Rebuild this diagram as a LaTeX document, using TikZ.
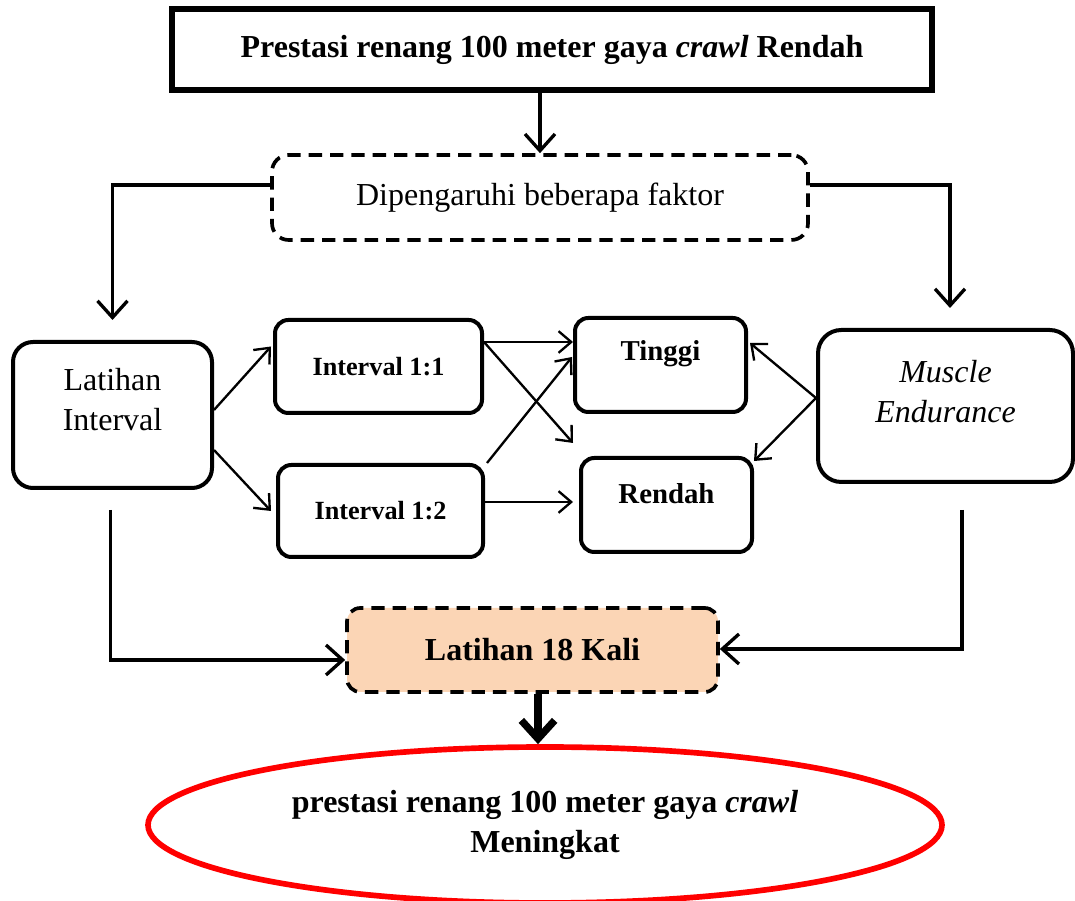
\documentclass[tikz,border=0pt]{standalone}
\usepackage{fontspec}
\setmainfont[Scale=0.96]{Liberation Serif}
\usetikzlibrary{arrows.meta, calc, shapes.geometric}
\definecolor{peach}{HTML}{FBD5B5}
\tikzset{
  box/.style = {draw, line width=1.2pt, rounded corners=4pt, inner sep=0pt},
  dbox/.style = {box, line width=1.1pt, dash pattern=on 4pt off 2.4pt},
  arr/.style = {line width=1pt, -{Straight Barb[length=5pt, width=9pt]}},
  tarr/.style = {line width=0.7pt, -{Straight Barb[length=3.8pt, width=6.5pt]}}
}

\begin{document}
\begin{tikzpicture}[x=0.3pt, y=-0.3pt]
        \useasboundingbox (0,0) rectangle (1075,901);
        \node[draw, line width=1.6pt, minimum width=228pt, minimum height=24.3pt, font=\bfseries] (top) at (552,49.5) {Prestasi renang 100 meter gaya \textit{crawl} Rendah};
        \node[dbox, rounded corners=5pt, minimum width=160.8pt, minimum height=25.5pt] (fk) at (540,197.5) {Dipengaruhi beberapa faktor};
        \node[box, rounded corners=6pt, minimum width=59.7pt, minimum height=43.8pt, label={[align=center, yshift=4.5pt]center:Latihan\\Interval}] (li) at (112.5,415) {};
        \node[box, minimum width=62.1pt, minimum height=27.9pt, font=\fontsize{8.2}{10}\selectfont\bfseries] (i11) at (378.5,366.5) {Interval 1:1};
        \node[box, minimum width=61.5pt, minimum height=27.6pt, font=\fontsize{8.2}{10}\selectfont\bfseries] (i12) at (380.5,511) {Interval 1:2};
        \node[box, minimum width=51.3pt, minimum height=28.2pt, label={[font=\fontsize{9}{11}\selectfont\bfseries, yshift=3.5pt]center:Tinggi}] (ti) at (660.5,365) {};
        \node[box, minimum width=51.3pt, minimum height=28.2pt, label={[font=\fontsize{9}{11}\selectfont\bfseries, yshift=3.5pt]center:Rendah}] (re) at (666.5,505) {};
        \node[box, rounded corners=7pt, minimum width=76.5pt, minimum height=45.6pt, label={[font=\itshape, align=center, yshift=4.2pt]center:Muscle\\Endurance}] (me) at (945.5,406) {};
        \node[dbox, fill=peach, minimum width=111.3pt, minimum height=25.2pt, font=\bfseries] (l18) at (532.5,650) {Latihan 18 Kali};
        \node[ellipse, draw=red, line width=1.7pt, inner sep=0pt, minimum width=238.2pt, minimum height=46.8pt, align=center, font=\bfseries] (el) at (545,825) {prestasi renang 100 meter gaya \textit{crawl}\\Meningkat};

        \draw[arr] (fk.north |- top.south) -- (fk.north);
        \draw[arr] ($(fk.west)+(0,-12.5)$) -| ($(li.north)+(0,-20)$);
        \draw[arr] ($(fk.east)+(0,-12.5)$) -| ($(me.north)+(4.5,-20)$);
        \draw[tarr] ($(li.east)+(0,-5)$) -- ($(i11.west)+(-2,-20)$);
        \draw[tarr] ($(li.east)+(0,35)$) -- ($(i12.west)+(-5,0)$);
        \draw[tarr] ($(i11.east)+(0,-24.5)$) -- ($(ti.west)+(0,-23)$);
        \draw[tarr] ($(i11.east)+(0,-24.5)$) -- ($(re.north west)+(-6,-13)$);
        \draw[tarr] ($(i12.north east)+(2,0)$) -- ($(ti.west)+(-1,-8)$);
        \draw[tarr] ($(i12.east)+(0,-9)$) -- ($(re.west)+(-6,-3)$);
        \draw[tarr] ($(me.west)+(0,-8)$) -- ($(ti.east)+(2,-22)$);
        \draw[tarr] ($(me.west)+(0,-8)$) -- ($(re.north east)+(0,5)$);
        \draw[arr] ($(li.south)+(-2,20)$) |- ($(l18.west)+(0,10)$);
        \draw[arr] ($(me.south)+(16.5,26)$) |- ($(l18.east)+(0,-1)$);
        \draw[line width=2.2pt, -{Straight Barb[length=5.5pt, width=10pt]}] ($(l18.south)+(5.5,0)$) -- ($(l18.south |- el.north)+(5.5,0)$);
\end{tikzpicture}
\end{document}
